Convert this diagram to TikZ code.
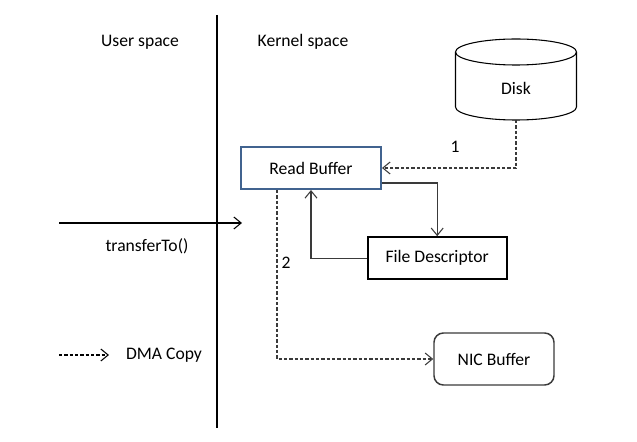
\documentclass[tikz,border=0pt]{standalone}
\usepackage{fontspec}
\setmainfont{Carlito}
\usetikzlibrary{arrows.meta}
\definecolor{bufblue}{HTML}{41638F}
\definecolor{linegray}{HTML}{3A3A3A}

\begin{document}
\begin{tikzpicture}[x=0.75pt,y=-0.75pt,font=\fontsize{13.2pt}{15pt}\selectfont]
\tikzset{
  boxnode/.style={rectangle,draw=black,line width=1.5pt,minimum width=104.25pt,minimum height=31.5pt,inner sep=1pt},
  readnode/.style={boxnode,draw=bufblue,minimum width=105pt},
  nicnode/.style={rectangle,rounded corners=7pt,draw=linegray,line width=1.1pt,minimum width=90pt,minimum height=39pt},
  diskline/.style={draw=black,line width=0.8pt},
  plainlabel/.style={inner sep=1pt},
  link/.style={draw=linegray,line width=0.8pt,-{Straight Barb[length=5.5pt,width=9pt,line width=0.8pt]}},
  dmacopy/.style={link,dash pattern=on 2.4pt off 1.6pt}
}
\useasboundingbox (0,0) rectangle (637,442);
% the boundary between the two spaces
\draw[line width=0.8pt] (217,15) -- (217,428);
\node[plainlabel] (n_user) at (140,42) {User space};
\node[plainlabel] (n_kernel) at (303,42) {Kernel space};
% disk drawn as a cylinder
\draw[diskline] (516,52) ellipse[x radius=45.375pt,y radius=9.75pt];
\draw[diskline] (455.5,52) -- (455.5,107) arc[start angle=180,end angle=360,x radius=45.375pt,y radius=9.75pt] -- (576.5,52);
\node[plainlabel] (n_disk) at (516,88) {Disk};
\coordinate (c_diskbottom) at (516,120);
\node[readnode] (n_readbuf) at (311,168) {Read Buffer};
\node[boxnode] (n_filedesc) at (437.2,258.2) {File Descriptor};
\node[nicnode] (n_nic) at (494,359) {NIC Buffer};
\node[plainlabel] (n_one) at (455,147) {1};
\node[plainlabel] (n_two) at (286,263) {2};
\node[plainlabel] (n_transfer) at (147,246) {transferTo()};
\node[plainlabel] (n_legend) at (164,355) {DMA Copy};
\coordinate (c_callstart) at (59,223);
\coordinate (c_callend) at (242,223);
\coordinate (c_legstart) at (59,355);
\coordinate (c_legend) at (109,355);
\draw[dmacopy] (c_diskbottom) |- (n_readbuf.east);
\draw[link] ([yshift=5.25pt]n_readbuf.south east) -| (n_filedesc.north);
\draw[link] (n_filedesc.west) -| (n_readbuf.south);
\draw[dmacopy] ([xshift=-25.5pt]n_readbuf.south) |- (n_nic.west);
\draw[link,draw=black,line width=1.1pt] (c_callstart) -- (c_callend);
\draw[dmacopy,draw=black] (c_legstart) -- (c_legend);
\end{tikzpicture}
\end{document}
